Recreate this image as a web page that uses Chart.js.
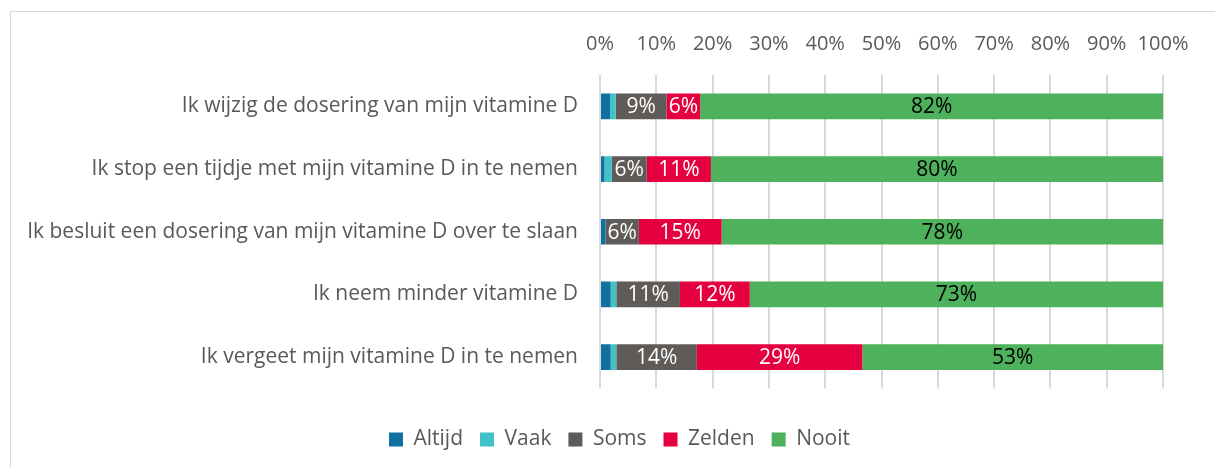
<!DOCTYPE html>
<html>
<head>
<meta charset="utf-8">
<script src="https://cdn.jsdelivr.net/npm/chart.js@4/dist/chart.umd.min.js"></script>
<style>
    html, body { margin: 0; padding: 0; background: #fff; overflow: hidden; }
    #wrap { position: relative; width: 1215px; height: 468px; }
    #frame { position: absolute; left: 10px; top: 11px; width: 1220px; height: 470px; border: 1.5px solid #d9d9d9; box-sizing: border-box; }
    canvas { position: absolute; left: 0; top: 0; }
</style>
</head>
<body>
<div id="wrap">
    <div id="frame"></div>
    <canvas id="chart" width="1215" height="468"></canvas>
</div>
<script>
const categories = [
    'Ik wijzig de dosering van mijn vitamine D',
    'Ik stop een tijdje met mijn vitamine D in te nemen',
    'Ik besluit een dosering van mijn vitamine D over te slaan',
    'Ik neem minder vitamine D',
    'Ik vergeet mijn vitamine D in te nemen'
]
const altijd = [1.8, 0.8, 1.0, 1.9, 1.9]
const vaak = [1.0, 1.3, 0, 1.0, 1.0]
const soms = [9.0, 6.2, 5.9, 11.3, 14.3]
const zelden = [6.0, 11.4, 14.7, 12.4, 29.4]
const nooit = [82.2, 80.3, 78.4, 73.4, 53.4]
const x_ticks = [0, 10, 20, 30, 40, 50, 60, 70, 80, 90, 100]

const font_family = "'Open Sans', sans-serif"
const text_color = '#595959'

// draws the percentages inside the bigger segments
const segment_labels = {
    id: 'segment_labels',
    afterDatasetsDraw(chart) {
        const ctx = chart.ctx
        ctx.save()
        ctx.font = `21px ${font_family}`
        ctx.textAlign = 'center'
        ctx.textBaseline = 'middle'
        chart.data.datasets.forEach((ds, i) => {
            if (!ds.labelColor) return
            chart.getDatasetMeta(i).data.forEach((bar, j) => {
                const v = ds.data[j]
                if (v < 4) return
                ctx.fillStyle = ds.labelColor
                ctx.fillText(`${Math.round(v)}%`, (bar.x + bar.base) / 2, bar.y + 1)
            })
        })
        ctx.restore()
    }
}

// legend sits a bit right of the middle in the original
const legend_shift = {
    id: 'legend_shift',
    afterLayout(chart) {
        chart.legend.left += 33
        chart.legend.right += 33
    }
}

const make_dataset = (label, data, color, labelColor) => ({
    label: label,
    data: data,
    backgroundColor: color,
    borderWidth: 0,
    labelColor: labelColor,
    categoryPercentage: 1,
    barPercentage: 0.41,
})

Chart.defaults.font.family = font_family
Chart.defaults.color = text_color

new Chart(document.getElementById('chart'), {
    type: 'bar',
    data: {
        labels: categories,
        datasets: [
            make_dataset('Altijd', altijd, '#11709f', null),
            make_dataset('Vaak', vaak, '#41c2c8', null),
            make_dataset('Soms', soms, '#5f5b58', '#ffffff'),
            make_dataset('Zelden', zelden, '#e5003f', '#ffffff'),
            make_dataset('Nooit', nooit, '#4db25b', '#000000'),
        ]
    },
    options: {
        indexAxis: 'y',
        responsive: false,
        animation: false,
        layout: {
            padding: { left: 10, right: 52, top: 13, bottom: 8 }
        },
        scales: {
            x: {
                position: 'top',
                stacked: true,
                min: 0,
                max: 100,
                afterBuildTicks: (scale) => {
                    scale.ticks = x_ticks.map(v => ({ value: v }))
                },
                ticks: {
                    padding: 19,
                    maxRotation: 0,
                    minRotation: 0,
                    autoSkip: false,
                    font: { size: 20 },
                    color: text_color,
                    callback: (v) => `${v}%`
                },
                grid: {
                    color: '#d9d9d9',
                    lineWidth: 2,
                    drawTicks: false
                },
                border: { display: false }
            },
            y: {
                stacked: true,
                afterFit: (scale) => { scale.width = 590 },
                ticks: {
                    padding: 22,
                    font: { size: 21 },
                    color: text_color
                },
                grid: { display: false, drawTicks: false },
                border: { display: false }
            }
        },
        plugins: {
            legend: {
                position: 'bottom',
                title: { display: true, text: '', font: { size: 10 }, padding: { top: 0, bottom: 11.5 } },
                labels: {
                    boxWidth: 14,
                    boxHeight: 14,
                    padding: 17,
                    font: { size: 21 },
                    color: text_color
                }
            },
            tooltip: { enabled: false }
        }
    },
    plugins: [segment_labels, legend_shift]
})
</script>
</body>
</html>
